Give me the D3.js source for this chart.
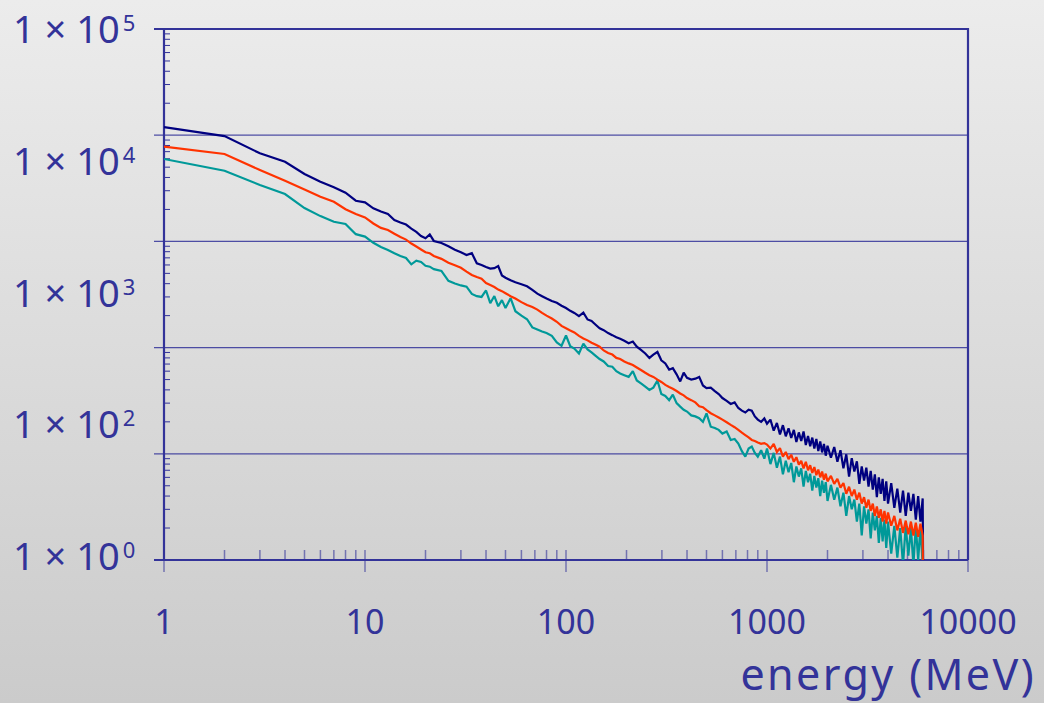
<!DOCTYPE html>
<html>
<head>
<meta charset="utf-8">
<script src="https://cdn.jsdelivr.net/npm/d3@7"></script>
<style>
html,body{margin:0;padding:0;}
body{width:1044px;height:703px;overflow:hidden;}
text{font-family:"Comic Sans MS","Noto Sans",sans-serif;fill:#333399;}
</style>
</head>
<body>
<svg id="chart" width="1044" height="703"></svg>
<script>
// ---------- data ----------
const energy = [
  1,2,3,4,5,6,7,8,9,10,11,12,13,14,15,16,17,18,19,20,
  21,22,24,26,28,30,32,34,36,38,40,
  42,44,46,48,50,53,56,60,64,68,72,76,80,85,90,95,100,
  105,110,116,122,128,134,140,147,154,162,170,178,186,195,
  205,215,225,236,248,260,272,285,298,312,326,340,355,370,385,400,
  420,440,460,480,500,525,550,575,600,630,660,690,720,750,780,810,840,870,900,935,970,1000,
  1040,1080,1120,1160,1200,1240,1280,1320,1360,1400,1440,1480,1520,1560,1600,1640,1680,1720,1760,1800,1840,1880,1920,1960,2000,
  2080,2160,2240,2320,2400,2480,2560,2640,2720,2800,2880,2960,3040,3120,3200,3280,3360,3440,3520,3600,3680,3760,3840,3920,4000,
  4150,4300,4450,4600,4750,4900,5050,5200,5350,5500,5650,5800,5950,
  6000
];
const navySeries = [
  11900,9800,6760,5630,4310,3650,3230,2875,2415,2330,2050,1910,1810,1590,1505,1440,1320,1230,1125,1070,
  1165,1010,965,900,835,790,745,775,622,600,575,
  555,560,585,478,455,430,412,395,378,350,322,305,290,275,264,248,236,
  222,212,198,213,184,178,165,152,146,137,131,125,121,116,
  110,114,102,95,88,80,86,91,76,71,62,64,56,48,58,52,
  50,51,53,44,41.5,42,39,36.5,33.5,31.5,29.5,30.5,27,25.5,24.5,26,25.5,22.5,21,20,21.5,19.2,
  21,16.5,19.5,15.2,18.6,14.6,17.4,14.1,16.8,12.9,15.9,13.2,16.2,12.1,14.7,11.8,14.2,11.2,13.8,10.6,13.1,10.3,12.4,9.6,11.9,
  9.2,11.6,8.4,10.8,7.3,9.9,6.1,9.1,6.8,8.5,5.2,7.6,5.6,7.4,4.9,6.9,4.6,6.4,3.9,6.0,4.2,5.8,3.6,5.5,3.4,
  5.3,3.1,4.7,2.8,4.5,2.6,4.3,2.9,4.2,2.4,4.0,2.3,3.8,
  0.3
];
const orangeSeries = [
  7800,6650,4700,3720,3080,2630,2360,2010,1810,1680,1475,1340,1280,1180,1100,1040,955,895,840,790,
  773,730,685,630,595,565,520,483,462,445,405,
  388,372,352,340,325,305,290,268,252,241,228,212,200,188,175,160,152,
  145,139,129,122,117,111,107,102,94,89,86,80,78,74,
  71,68.5,65,61.5,58,55,53,50,47.5,44.5,42.5,41,39,37,35.5,33.5,
  32,30.5,28,27.5,25.8,24.1,23,22,21,19.8,18.7,17.8,16.8,15.8,15,14.3,13.5,13.2,12.8,12.4,12.6,12.2,
  11.2,12.4,10.4,11.3,9.4,10.4,8.9,9.8,8.4,9.3,7.9,8.6,7.3,8.4,7.0,7.8,6.6,7.5,6.3,7.1,6.0,6.8,5.7,6.5,5.5,
  6.2,5.2,5.8,4.8,5.3,4.2,4.9,4.0,4.6,3.7,4.3,3.4,3.9,3.1,3.7,2.9,3.4,2.6,3.2,2.5,3.0,2.3,2.9,2.2,2.8,
  2.1,2.6,1.9,2.45,1.8,2.35,1.75,2.3,1.7,2.25,1.65,2.2,1.7,
  0.1
];
const tealSeries = [
  5970,4630,3400,2790,2060,1730,1530,1460,1170,1110,970,885,830,773,728,698,608,658,640,590,
  578,548,528,425,402,385,375,320,305,300,345,
  262,306,245,280,236,292,220,200,185,155,148,142,137,129,112,104,130,
  103,98,88,109,96,90,84,78,74,67,66,60,57,55,
  53,60,49,46,43,40,42,49,36.5,35,32,36,30,27.8,26,25,
  23,22.5,21.6,20,24,18,17.5,16.8,15.5,16.2,13.5,13.8,12.5,10.6,9.4,11.2,11.7,10.2,9.4,10.8,9.0,11.2,
  8.0,10.2,7.4,9.4,6.4,8.6,6.7,8.2,5.4,7.6,6.1,7.3,4.9,6.9,5.4,6.5,4.5,6.2,4.8,5.9,4.0,5.6,4.3,5.4,3.6,
  5.1,3.7,4.8,3.2,4.3,2.6,4.0,3.0,3.7,2.3,3.4,1.7,3.2,2.2,3.0,1.6,2.8,1.9,2.6,1.45,2.5,1.5,2.4,1.3,2.3,
  1.15,2.1,1.05,2.0,0.9,2.1,1.1,2.0,0.9,2.1,1.0,2.05,0.9,
  0.1
];
const seriesNames = ["navy","teal","orange"];
const seriesColors = ["#000080","#009999","#ff3300"];
const xTickLabels = ["1","10","100","1000","10000"];
const yTickExponents = ["5","4","3","2","0"];
const xAxisTitle = "energy (MeV)";

// ---------- layout ----------
const W = 1044, H = 703;
const L = 164, R = 968, T = 29, B = 560;
const axisColor = "#333399";
const tickColor = "rgba(51,51,153,0.6)";

const svg = d3.select("#chart");
const defs = svg.append("defs");
const grad = defs.append("linearGradient").attr("id","bg").attr("x1",0).attr("y1",0).attr("x2",0).attr("y2",1);
grad.append("stop").attr("offset","0%").attr("stop-color","#ececec");
grad.append("stop").attr("offset","100%").attr("stop-color","#cbcbcb");
svg.append("rect").attr("width",W).attr("height",H).attr("fill","url(#bg)");
defs.append("clipPath").attr("id","plotClip").append("rect")
  .attr("x",L).attr("y",T).attr("width",R-L).attr("height",B-T);

const x = d3.scaleLog().domain([1,10000]).range([L,R]);
const y = d3.scaleLog().domain([1,1e5]).range([B,T]);
const isMajor = v => Math.abs(Math.log10(v) - Math.round(Math.log10(v))) < 1e-9;

// horizontal gridlines (majors)
const yMajors = y.ticks().filter(isMajor);
svg.append("g").selectAll("line").data(yMajors).join("line")
  .attr("x1",L-10).attr("x2",R)
  .attr("y1",d=>y(d)).attr("y2",d=>y(d))
  .attr("stroke",axisColor)
  .attr("stroke-width",d=>(d===1||d===1e5)?2.2:1.2)
  .attr("stroke-opacity",d=>(d===1||d===1e5)?1:0.85);

// y minor ticks
svg.append("g").selectAll("line").data(y.ticks().filter(d=>!isMajor(d))).join("line")
  .attr("x1",L).attr("x2",L+6)
  .attr("y1",d=>y(d)).attr("y2",d=>y(d))
  .attr("stroke",axisColor).attr("stroke-width",1);

// x ticks
const xt = x.ticks();
svg.append("g").selectAll("line").data(xt).join("line")
  .attr("x1",d=>x(d)).attr("x2",d=>x(d))
  .attr("y1",B-10).attr("y2",d=>isMajor(d)?B+12:B)
  .attr("stroke",tickColor).attr("stroke-width",1.5);

// axis line left and right border
svg.append("line").attr("x1",L).attr("x2",L).attr("y1",T).attr("y2",B)
  .attr("stroke",axisColor).attr("stroke-width",2.2);
svg.append("line").attr("x1",R).attr("x2",R).attr("y1",T-1).attr("y2",B)
  .attr("stroke",axisColor).attr("stroke-width",2.2);

// series
const seriesData = [navySeries, tealSeries, orangeSeries];
const line = d3.line().x((d,i)=>x(energy[i])).y(d=>y(d));
svg.append("g").attr("clip-path","url(#plotClip)")
  .selectAll("path").data(seriesData).join("path")
  .attr("d",d=>line(d))
  .attr("fill","none")
  .attr("stroke",(d,i)=>seriesColors[i])
  .attr("stroke-width",2.2)
  .attr("stroke-linejoin","miter")
  .attr("stroke-miterlimit",2);

// x tick labels
svg.append("g").selectAll("text").data(xTickLabels).join("text")
  .attr("x",d=>x(+d)).attr("y",634)
  .attr("text-anchor","middle")
  .attr("font-size",34)
  .text(d=>d);

// y tick labels (evenly distributed, as in the reference slide)
const yLab = d3.scalePoint().domain(yTickExponents).range([43,570]);
const yl = svg.append("g").selectAll("text").data(yTickExponents).join("text")
  .attr("x",13).attr("y",d=>yLab(d))
  .attr("font-size",38);
yl.append("tspan").text("1 \u00d7 10");
yl.append("tspan").attr("dx",3).attr("dy",-12).attr("font-size",22).text(d=>d);

// x axis title
svg.append("text").attr("x",1036).attr("y",690)
  .attr("text-anchor","end").attr("font-size",43)
  .attr("letter-spacing",2.4)
  .text(xAxisTitle);
</script>
</body>
</html>
